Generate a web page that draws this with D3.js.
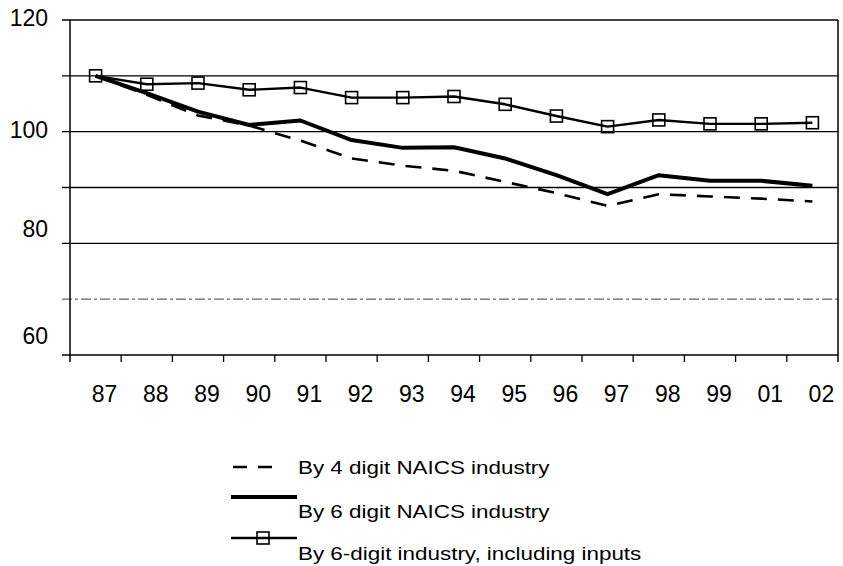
<!DOCTYPE html>
<html lang="en">
<head>
<meta charset="UTF-8">
<title>Industry index, 87-02</title>
<style>
body{margin:0;background:#fff;}
svg text{font-family:"Liberation Sans",Arial,sans-serif;fill:#000;}
.frame{fill:none;stroke:#000;stroke-width:1.5;}
.grid line{stroke:#000;stroke-width:1.3;}
.tick-mark{stroke:#000;stroke-width:1.3;}
.series{fill:none;stroke:#000;stroke-linejoin:round;}
</style>
</head>
<body>
<script src="https://cdn.jsdelivr.net/npm/d3@7/dist/d3.min.js"></script>
<script>
// categories (years)
var years = ["87","88","89","90","91","92","93","94","95","96","97","98","99","01","02"];
// series values
var naics4 = [110, 106.6, 102.9, 101.1, 98.4, 95.2, 93.9, 93.0, 91.0, 89.0, 86.7, 88.8, 88.4, 88.0, 87.5];
var naics6 = [110, 106.9, 103.6, 101.2, 102.0, 98.5, 97.1, 97.2, 95.2, 92.2, 88.8, 92.2, 91.2, 91.2, 90.3];
var inputs6 = [110, 108.5, 108.7, 107.5, 107.9, 106.1, 106.1, 106.3, 104.9, 102.8, 100.9, 102.1, 101.4, 101.4, 101.6];
var seriesNames = ["By 4 digit NAICS industry", "By 6 digit NAICS industry", "By 6-digit industry, including inputs"];
// y grid every 10, labels every 20 (labels sit where the picture shows them)
var yTicks = [70, 80, 90, 100, 110, 120];
var yLabels = ["120", "100", "80", "60"];
var yLabelAt = [120.4, 100.3, 82.7, 63.4];

var margin = {top:20, right:5, bottom:211, left:70},
	width = 843 - margin.left - margin.right,
	height = 566 - margin.top - margin.bottom;

var x = d3.scaleBand().domain(years).range([0, width]).padding(0);
var y = d3.scaleLinear().domain([60, 120]).range([height, 0]);
var bw = x.bandwidth();

var svg = d3.select("body").append("svg")
	.attr("width", 843)
	.attr("height", 566);
var g = svg.append("g")
	.attr("transform", "translate(" + margin.left + "," + margin.top + ")");

// horizontal gridlines with small ticks left of the axis
g.append("g").attr("class", "grid")
	.selectAll("line").data(yTicks).enter().append("line")
	.attr("x1", -8).attr("x2", width)
	.attr("y1", function(d){return y(d);})
	.attr("y2", function(d){return y(d);})
	.style("stroke", function(d){return d === 70 ? "#666" : null;})
	.style("stroke-dasharray", function(d){return d === 70 ? "10,3,3,3" : null;});

// left axis, bottom axis, right border
g.append("line").attr("class", "frame").attr("x1", 0).attr("x2", 0).attr("y1", 0).attr("y2", height + 7);
g.append("line").attr("class", "frame").attr("x1", -8).attr("x2", width).attr("y1", height).attr("y2", height);
g.append("line").attr("class", "frame").attr("x1", width).attr("x2", width).attr("y1", 0).attr("y2", height + 7);

// x tick marks on category boundaries
g.append("g").selectAll("line").data(years.slice(1)).enter().append("line")
	.attr("class", "tick-mark")
	.attr("x1", function(d){return x(d);}).attr("x2", function(d){return x(d);})
	.attr("y1", height).attr("y2", height + 7);

// x labels
g.append("g").selectAll("text").data(years).enter().append("text")
	.attr("x", function(d){return x(d) + bw / 2 + 9;})
	.attr("y", height + 47)
	.attr("text-anchor", "middle")
	.style("font-size", "23px")
	.text(function(d){return d;});

// y labels
g.append("g").selectAll("text").data(yLabels).enter().append("text")
	.attr("x", -22)
	.attr("y", function(d, i){return y(yLabelAt[i]);})
	.attr("dy", "0.36em")
	.attr("text-anchor", "end")
	.style("font-size", "23px")
	.text(function(d){return d;});

var line = d3.line()
	.x(function(d, i){return x(years[i]) + bw / 2;})
	.y(function(d){return y(d);});

g.append("path").datum(naics4).attr("class", "series")
	.attr("d", line).style("stroke-width", 2.6).style("stroke-dasharray", "16,11");
g.append("path").datum(naics6).attr("class", "series")
	.attr("d", line).style("stroke-width", 4);
g.append("path").datum(inputs6).attr("class", "series")
	.attr("d", line).style("stroke-width", 2.4);
g.append("g").selectAll("rect").data(inputs6).enter().append("rect")
	.attr("x", function(d, i){return x(years[i]) + bw / 2 - 6;})
	.attr("y", function(d){return y(d) - 6;})
	.attr("width", 12).attr("height", 12)
	.style("fill", "none").style("stroke", "#000").style("stroke-width", 1.6);

// legend
var rows = [
	{name: seriesNames[0], textY: 467, lineY: 467, dash: "14,11", w: 2.6, box: false},
	{name: seriesNames[1], textY: 511, lineY: 497, dash: null, w: 4, box: false},
	{name: seriesNames[2], textY: 553, lineY: 538, dash: null, w: 2.4, box: true}
];
var legend = svg.append("g");
var row = legend.selectAll("g").data(rows).enter().append("g");
row.append("line")
	.attr("x1", function(d){return d.dash ? 233 : 231;})
	.attr("x2", function(d){return d.dash ? 273 : 297;})
	.attr("y1", function(d){return d.lineY;})
	.attr("y2", function(d){return d.lineY;})
	.style("stroke", "#000")
	.style("stroke-width", function(d){return d.w;})
	.style("stroke-dasharray", function(d){return d.dash;});
row.filter(function(d){return d.box;}).append("rect")
	.attr("x", 257).attr("y", function(d){return d.lineY - 6;})
	.attr("width", 12).attr("height", 12)
	.style("fill", "none").style("stroke", "#000").style("stroke-width", 1.6);
row.append("text")
	.attr("transform", function(d){return "translate(298," + d.textY + ") scale(1.18,1)";})
	.attr("dy", "0.36em")
	.style("font-size", "19px")
	.text(function(d){return d.name;});
</script>
</body>
</html>
